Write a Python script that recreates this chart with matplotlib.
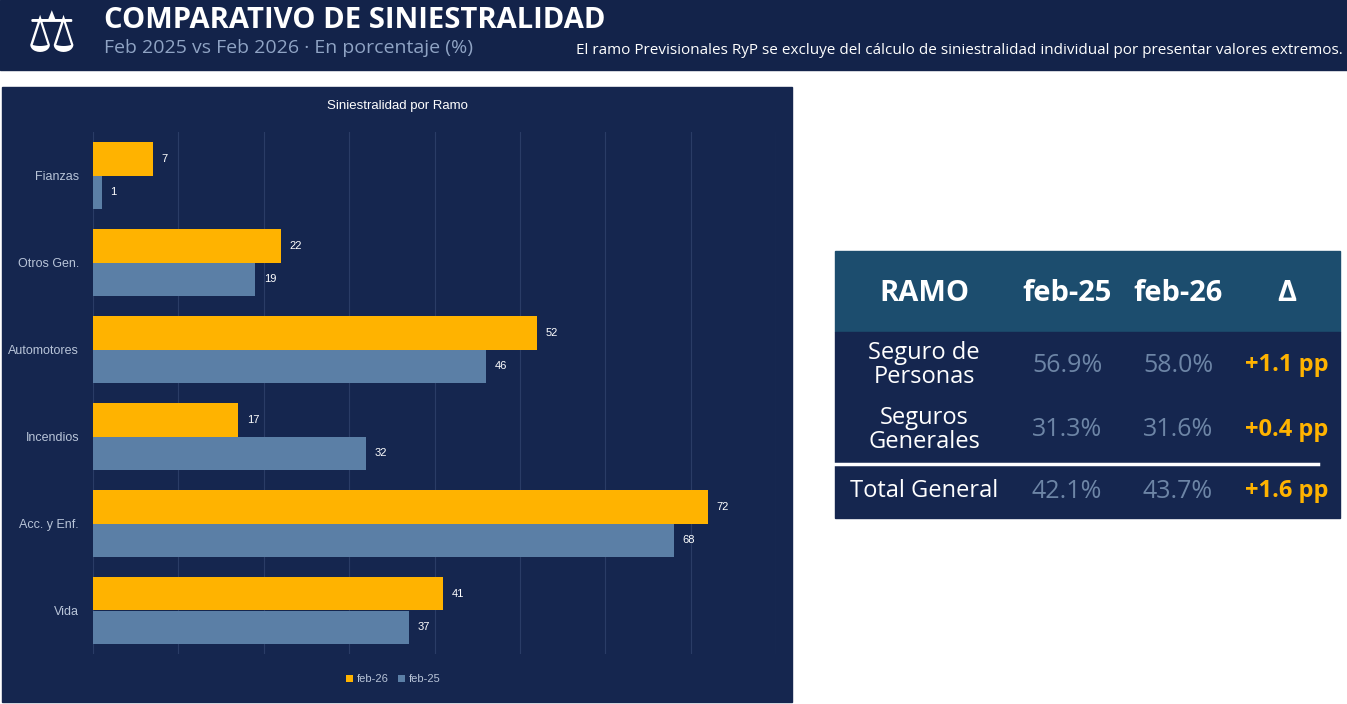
import matplotlib
matplotlib.use("Agg")
import matplotlib.pyplot as plt
from matplotlib.patches import Rectangle
import numpy as np

W, H = 1347, 704

ramos = ["Fianzas", "Otros Gen.", "Automotores", "Incendios", "Acc. y Enf.", "Vida"]
feb26 = [7, 22, 52, 17, 72, 41]
feb25 = [1, 19, 46, 32, 68, 37]

tabla_ramos = ["Seguro de\nPersonas", "Seguros\nGenerales", "Total General"]
tabla_feb25 = ["56.9%", "31.3%", "42.1%"]
tabla_feb26 = ["58.0%", "31.6%", "43.7%"]
tabla_delta = ["+1.1 pp", "+0.4 pp", "+1.6 pp"]

NAVY = "#15264f"
GOLD = "#ffb300"
STEEL = "#5b7fa6"
HEAD = "#1c4d6e"
MUTED = "#6d85a6"

fig = plt.figure(figsize=(W / 100, H / 100), dpi=100)
fig.patch.set_facecolor("white")


def px(x, y):
    return x / W, 1 - y / H


def rect(x0, y0, x1, y1, color):
    fig.patches.append(Rectangle(px(x0, y1), (x1 - x0) / W, (y1 - y0) / H,
                                 transform=fig.transFigure, color=color, zorder=-10))


def text(x, y, s, **kw):
    fig.text(*px(x, y), s, **kw)


# header band
rect(0, 0, W, 70, "#13234a")
text(104, 20, "COMPARATIVO DE SINIESTRALIDAD", color="white", fontsize=21,
     fontweight="bold", family="Open Sans", va="center")
text(104, 48, "Feb 2025 vs Feb 2026 · En porcentaje (%)", color="#8fa3c4", fontsize=14,
     family="Open Sans", va="center")
text(1343, 50, "El ramo Previsionales RyP se excluye del cálculo de siniestralidad individual por presentar valores extremos.",
     color="white", fontsize=11, family="Open Sans", va="center", ha="right")
text(52, 36, "⚖", color="white", fontsize=40, ha="center", va="center", family="DejaVu Sans")

# chart panel
rect(2, 87, 792, 702, NAVY)
text(397, 106, "Siniestralidad por Ramo", color="white", fontsize=9.5,
     family="Liberation Sans", ha="center", va="center")

ax = fig.add_axes([93 / W, 1 - 654 / H, (776 - 93) / W, (654 - 132) / H])
ax.set_facecolor(NAVY)
y = np.arange(len(ramos))
h = 0.39
b1 = ax.barh(y - h / 2, feb26, height=h, color=GOLD, label="feb-26")
b2 = ax.barh(y + h / 2, feb25, height=h, color=STEEL, label="feb-25")
for bars, vals in [(b1, feb26), (b2, feb25)]:
    for bar, v in zip(bars, vals):
        ax.text(bar.get_width() + 1, bar.get_y() + bar.get_height() / 2, f"{v}",
                color="white", fontsize=8, va="center", family="Liberation Sans")
ax.set_xlim(0, 80)
ax.set_ylim(len(ramos) - 0.5, -0.5)
ax.set_xticks(np.arange(0, 81, 10))
ax.tick_params(axis="x", length=0, labelbottom=False)
ax.tick_params(axis="y", length=0, colors="#b8c4d8", labelsize=9, pad=10)
ax.set_yticks(y, ramos, family="Liberation Sans")
ax.grid(axis="x", color="#2a3c66", linewidth=0.8)
ax.set_axisbelow(True)
for s in ax.spines.values():
    s.set_visible(False)
ax.legend(loc="upper center", bbox_to_anchor=(0.44, -0.02), ncol=2, frameon=False,
          labelcolor="#b8c4d8", handlelength=0.6, handleheight=0.6,
          columnspacing=0.8, handletextpad=0.4, prop={"family": "Liberation Sans", "size": 8})

# table
rect(835, 251, 1340, 332, HEAD)
rect(835, 332, 1340, 518, NAVY)
cols = [924, 1067, 1178, 1287]
for cx, s in zip(cols, ["RAMO", "feb-25", "feb-26", "Δ"]):
    text(cx, 293, s, color="white", fontsize=21, fontweight="bold",
         family="Open Sans", ha="center", va="center")
rows_y = [365, 430, 491]
for ry, r, a, b, d in zip(rows_y, tabla_ramos, tabla_feb25, tabla_feb26, tabla_delta):
    text(cols[0], ry, r, color="white", fontsize=17, family="Open Sans",
         ha="center", va="center", linespacing=1.0)
    text(cols[1], ry, a, color=MUTED, fontsize=18, family="Open Sans", ha="center", va="center")
    text(cols[2], ry, b, color=MUTED, fontsize=18, family="Open Sans", ha="center", va="center")
    text(cols[3], ry, d, color=GOLD, fontsize=17, fontweight="bold",
         family="Open Sans", ha="center", va="center")
fig.add_artist(plt.Line2D([835 / W, 1318 / W], [1 - 464 / H] * 2, color="white",
                          linewidth=2.5, transform=fig.transFigure))

fig.savefig("out.png", dpi=100, facecolor=fig.get_facecolor())
